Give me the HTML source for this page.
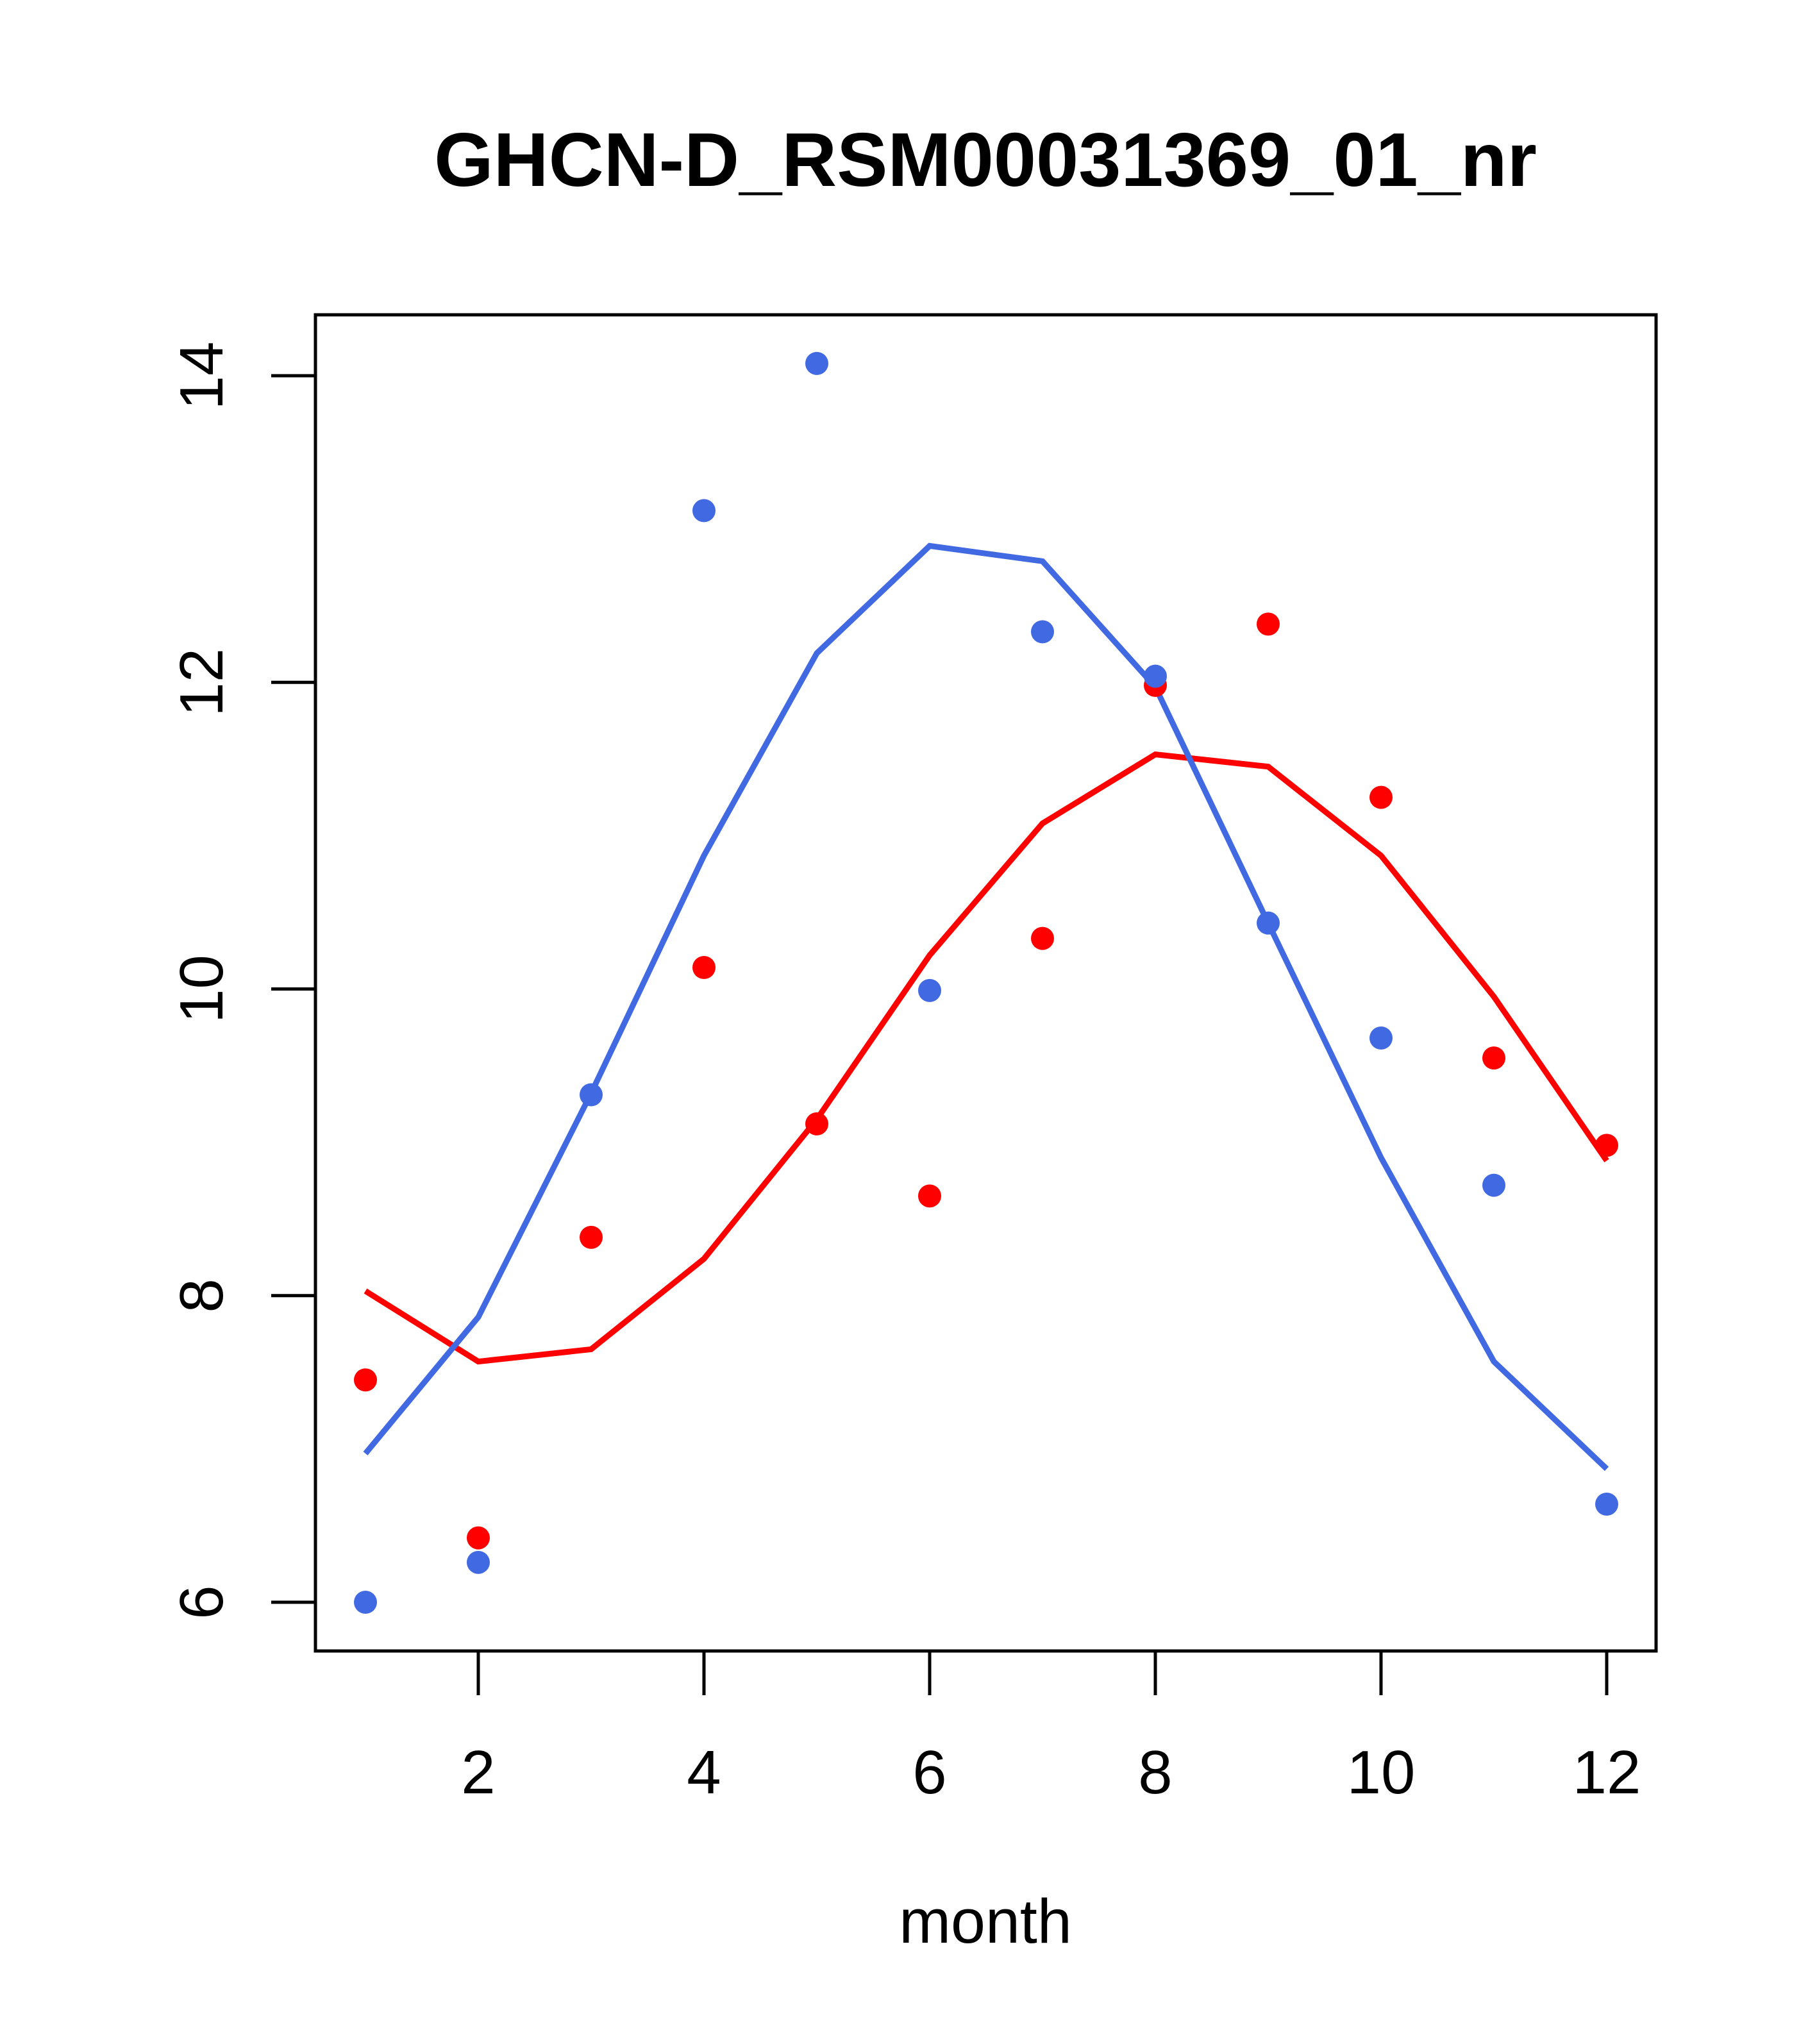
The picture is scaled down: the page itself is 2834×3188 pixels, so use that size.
<!DOCTYPE html>
<html><head><meta charset="utf-8"><style>html,body{margin:0;padding:0;background:#fff}svg{display:block}</style></head>
<body>
<svg id="chart" width="2834" height="3188" xmlns="http://www.w3.org/2000/svg" font-family="Liberation Sans, Arial, sans-serif">
<rect width="2834" height="3188" fill="#fff"/>
<text x="1537" y="290" font-size="119" font-weight="bold" text-anchor="middle">GHCN-D_RSM00031369_01_nr</text>
<rect x="492" y="491" width="2091" height="2084" fill="none" stroke="#000" stroke-width="5"/>
<g id="xaxis"></g>
<g id="yaxis"></g>
<text x="1537" y="3030" font-size="97" text-anchor="middle">month</text>
<g id="series"></g>
</svg>
<script>
const months = [1,2,3,4,5,6,7,8,9,10,11,12];
const redPoints = [7.45,6.42,8.38,10.14,9.12,8.65,10.33,11.98,12.38,11.25,9.55,8.98];
const redLine = [8.03,7.57,7.65,8.24,9.15,10.22,11.08,11.53,11.45,10.87,9.95,8.88];
const bluePoints = [6.0,6.26,9.31,13.12,14.08,9.99,12.33,12.04,10.43,9.68,8.72,6.64];
const blueLine = [6.97,7.86,9.32,10.87,12.19,12.89,12.79,11.97,10.43,8.9,7.57,6.87];
const xTicks = [2,4,6,8,10,12];
const yTicks = [6,8,10,12,14];

const NS = "http://www.w3.org/2000/svg";
function X(m){ return 570 + (m-1)*(2506-570)/11; }
function Y(v){ return 2499 - (v-6)*(2499-586)/8; }
function mk(tag, attrs, parent){ const e=document.createElementNS(NS,tag); for(const k in attrs) e.setAttribute(k,attrs[k]); parent.appendChild(e); return e; }

const xa=document.getElementById('xaxis');
mk('line',{x1:X(2),x2:X(12),y1:2575,y2:2575,stroke:'#000','stroke-width':5},xa);
xTicks.forEach(t=>{
  const l=mk('line',{x1:X(t),x2:X(t),y1:2575,y2:2644,stroke:'#000','stroke-width':5},xa);
  
  
  const tx=mk('text',{x:X(t),y:2797,'font-size':96,'text-anchor':'middle'},xa);
  tx.textContent=t;
  
  
});
const ya=document.getElementById('yaxis');
yTicks.forEach(t=>{
  const l=mk('line',{x1:423,x2:492,y1:Y(t),y2:Y(t),stroke:'#000','stroke-width':5},ya);
  
  
  const tx=mk('text',{x:0,y:0,'font-size':96,'text-anchor':'middle',transform:`translate(347,${Y(t)}) rotate(-90)`},ya);
  tx.textContent=t;
  
  
});

const s=document.getElementById('series');
function line(vals,color,name){
  const p=mk('polyline',{points:vals.map((v,i)=>X(months[i])+','+Y(v)).join(' '),fill:'none',stroke:color,'stroke-width':9,'stroke-linejoin':'miter'},s);
  
  
}
function pts(vals,color,name){
  vals.forEach((v,i)=>{
    const c=mk('circle',{cx:X(months[i]),cy:Y(v),r:18,fill:color},s);
    
    
  });
}
line(redLine,'#ff0000','red-line');
line(blueLine,'#4169e1','blue-line');
pts(redPoints,'#ff0000','red-point');
pts(bluePoints,'#4169e1','blue-point');
</script>
</body></html>
